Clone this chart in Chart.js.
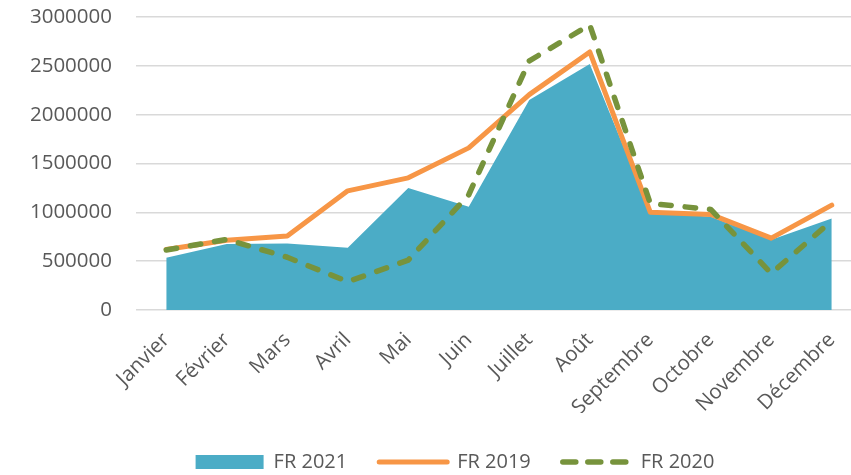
<!DOCTYPE html>
<html lang="fr">
<head>
<meta charset="utf-8">
<title>FR 2019 / 2020 / 2021</title>
<script src="https://cdn.jsdelivr.net/npm/chart.js@4.4.1/dist/chart.umd.min.js"></script>
<style>
  html, body { margin: 0; padding: 0; background: #fff; overflow: hidden; }
  canvas { display: block; }
</style>
</head>
<body>
<canvas id="chart" width="862" height="475"></canvas>
<script>
// Données
var mois = ['Janvier', 'Février', 'Mars', 'Avril', 'Mai', 'Juin', 'Juillet', 'Août',
            'Septembre', 'Octobre', 'Novembre', 'Décembre'];
var fr2021 = [535000, 675000, 680000, 637000, 1250000, 1057000, 2150000, 2520000, 1000000, 954000, 720000, 938000];
var fr2019 = [620000, 715000, 757000, 1220000, 1353000, 1660000, 2205000, 2642000, 1002000, 979000, 736000, 1074000];
var fr2020 = [614000, 723000, 540000, 290000, 511000, 1180000, 2550000, 2920000, 1091000, 1030000, 375000, 913000];
var yTicks = [0, 500000, 1000000, 1500000, 2000000, 2500000, 3000000];

var TEXT = '#595959';
var LEGEND_DASH = [13, 12];
Chart.defaults.font.family = "'Open Sans', sans-serif";
Chart.defaults.color = TEXT;

// Décale la légende (centrée comme dans Excel, sous les étiquettes)
var legendShift = {
  id: 'legendShift',
  afterLayout: function(chart, args, opts) {
    var lg = chart.legend;
    if (!lg) return;
    lg.left += opts.dx; lg.right += opts.dx;
    lg.top += opts.dy; lg.bottom += opts.dy;
  }
};

new Chart(document.getElementById('chart'), {
  type: 'line',
  data: {
    labels: mois,
    datasets: [
      {
        label: 'FR 2021',
        data: fr2021,
        fill: 'origin',
        backgroundColor: '#4BACC6',
        borderColor: '#4BACC6',
        borderWidth: 0,
        pointRadius: 0,
        tension: 0,
        order: 3
      },
      {
        label: 'FR 2019',
        data: fr2019,
        fill: false,
        borderColor: '#F79646',
        borderWidth: 5,
        borderJoinStyle: 'round',
        borderCapStyle: 'round',
        pointRadius: 0,
        tension: 0,
        order: 2
      },
      {
        label: 'FR 2020',
        data: fr2020,
        fill: false,
        borderColor: '#77933C',
        borderWidth: 5.5,
        borderDash: [10.5, 14],
        borderJoinStyle: 'round',
        borderCapStyle: 'round',
        pointRadius: 0,
        tension: 0,
        order: 1
      }
    ]
  },
  plugins: [legendShift],
  options: {
    responsive: false,
    animation: false,
    layout: { padding: { top: 17, left: 0, right: 0, bottom: 0 } },
    plugins: {
      tooltip: { enabled: false },
      legendShift: { dx: 24, dy: 7 },
      legend: {
        position: 'bottom',
        labels: {
          usePointStyle: true,
          pointStyleWidth: 68,
          boxHeight: 14,
          padding: 32,
          color: TEXT,
          font: { size: 20 },
          generateLabels: function(chart) {
            return chart.data.datasets.map(function(ds, i) {
              var isArea = ds.fill === 'origin';
              return {
                text: ds.label,
                datasetIndex: i,
                fillStyle: isArea ? ds.backgroundColor : 'rgba(0,0,0,0)',
                strokeStyle: ds.borderColor,
                lineWidth: isArea ? 0 : ds.borderWidth,
                lineDash: ds.borderDash ? LEGEND_DASH : [],
                lineCap: 'round',
                pointStyle: isArea ? 'rect' : 'line',
                fontColor: TEXT,
                hidden: false
              };
            });
          }
        }
      }
    },
    scales: {
      x: {
        offset: true,
        grid: { display: false, drawTicks: false },
        border: { display: false },
        ticks: {
          autoSkip: false,
          minRotation: 45,
          maxRotation: 45,
          padding: 18,
          color: TEXT,
          font: { size: 20.5 }
        },
        afterFit: function(scale) {
          scale.height = 103;
          scale.paddingLeft = 0;
          scale.paddingRight = 0;
        }
      },
      y: {
        min: 0,
        max: 3000000,
        grid: { color: '#D9D9D9', lineWidth: 1.5, drawTicks: false },
        border: { display: false },
        afterBuildTicks: function(scale) {
          scale.ticks = yTicks.map(function(v) { return { value: v }; });
        },
        ticks: {
          padding: 24,
          color: TEXT,
          font: { size: 20.5 },
          callback: function(v) { return String(v); }
        },
        afterFit: function(scale) {
          scale.width = 136;
          scale.paddingTop = 0;
          scale.paddingBottom = 0;
        }
      }
    }
  }
});
</script>
</body>
</html>
